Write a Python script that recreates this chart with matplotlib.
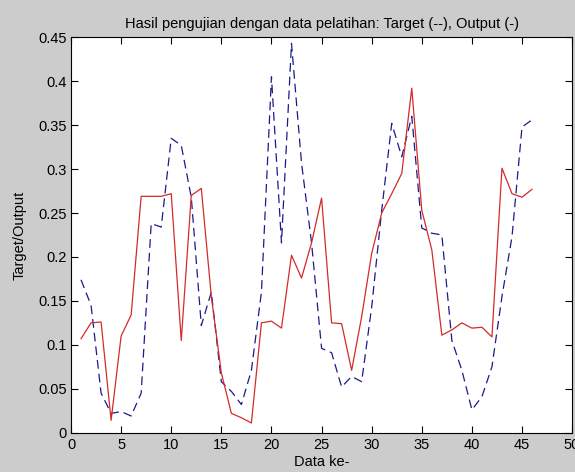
import numpy as np
import matplotlib
matplotlib.use("Agg")
import matplotlib.pyplot as plt

plt.rcParams['font.family'] = ['Liberation Sans', 'DejaVu Sans']

# data index (Data ke-)
idx = np.arange(1, 47)

# target values (blue dashed)
target = [0.174, 0.145, 0.045, 0.022, 0.024, 0.019, 0.045, 0.238, 0.234, 0.335,
          0.327, 0.268, 0.122, 0.160, 0.058, 0.047, 0.032, 0.071, 0.160, 0.405,
          0.216, 0.443, 0.307, 0.216, 0.096, 0.091, 0.052, 0.064, 0.058, 0.143,
          0.253, 0.352, 0.314, 0.360, 0.233, 0.227, 0.225, 0.105, 0.071, 0.026,
          0.041, 0.075, 0.155, 0.223, 0.348, 0.356]

# network output (red solid)
output = [0.107, 0.125, 0.126, 0.014, 0.110, 0.134, 0.269, 0.269, 0.269, 0.272,
          0.105, 0.270, 0.278, 0.155, 0.068, 0.022, 0.017, 0.011, 0.125, 0.127,
          0.119, 0.202, 0.176, 0.216, 0.267, 0.125, 0.124, 0.071, 0.132, 0.204,
          0.250, 0.272, 0.295, 0.392, 0.253, 0.208, 0.111, 0.117, 0.125, 0.119,
          0.120, 0.109, 0.301, 0.272, 0.268, 0.277]

xticks = [0, 5, 10, 15, 20, 25, 30, 35, 40, 45, 50]
yticks = [0, 0.05, 0.1, 0.15, 0.2, 0.25, 0.3, 0.35, 0.4, 0.45]
ytick_labels = ['0', '0.05', '0.1', '0.15', '0.2', '0.25', '0.3', '0.35', '0.4', '0.45']

fig = plt.figure(figsize=(5.75, 4.72), dpi=100, facecolor='#cccccc')
ax = fig.add_axes([0.1235, 0.0833, 0.8715, 0.8377])
ax.set_facecolor('white')

ax.plot(idx, target, color='#1a1a8c', linestyle=(0, (7, 4)), linewidth=0.9)
ax.plot(idx, output, color='#d42a2a', linestyle='-', linewidth=0.9)

ax.set_xlim(0, 50)
ax.set_ylim(0, 0.45)
ax.set_xticks(xticks)
ax.set_xticklabels([str(t) for t in xticks])
ax.set_yticks(yticks)
ax.set_yticklabels(ytick_labels)
ax.tick_params(direction='in', top=True, right=True, length=5, width=0.8,
               labelsize=10.5)
ax.tick_params(axis='x', pad=4)
ax.tick_params(axis='y', pad=3)
for s in ax.spines.values():
    s.set_linewidth(0.8)

ax.set_title('Hasil pengujian dengan data pelatihan: Target (--), Output (-)',
             fontsize=10.5, pad=7)
ax.set_xlabel('Data ke-', fontsize=10.5, labelpad=2)
ax.set_ylabel('Target/Output', fontsize=10.5, labelpad=8)

fig.savefig('out.png', dpi=100, facecolor=fig.get_facecolor())
